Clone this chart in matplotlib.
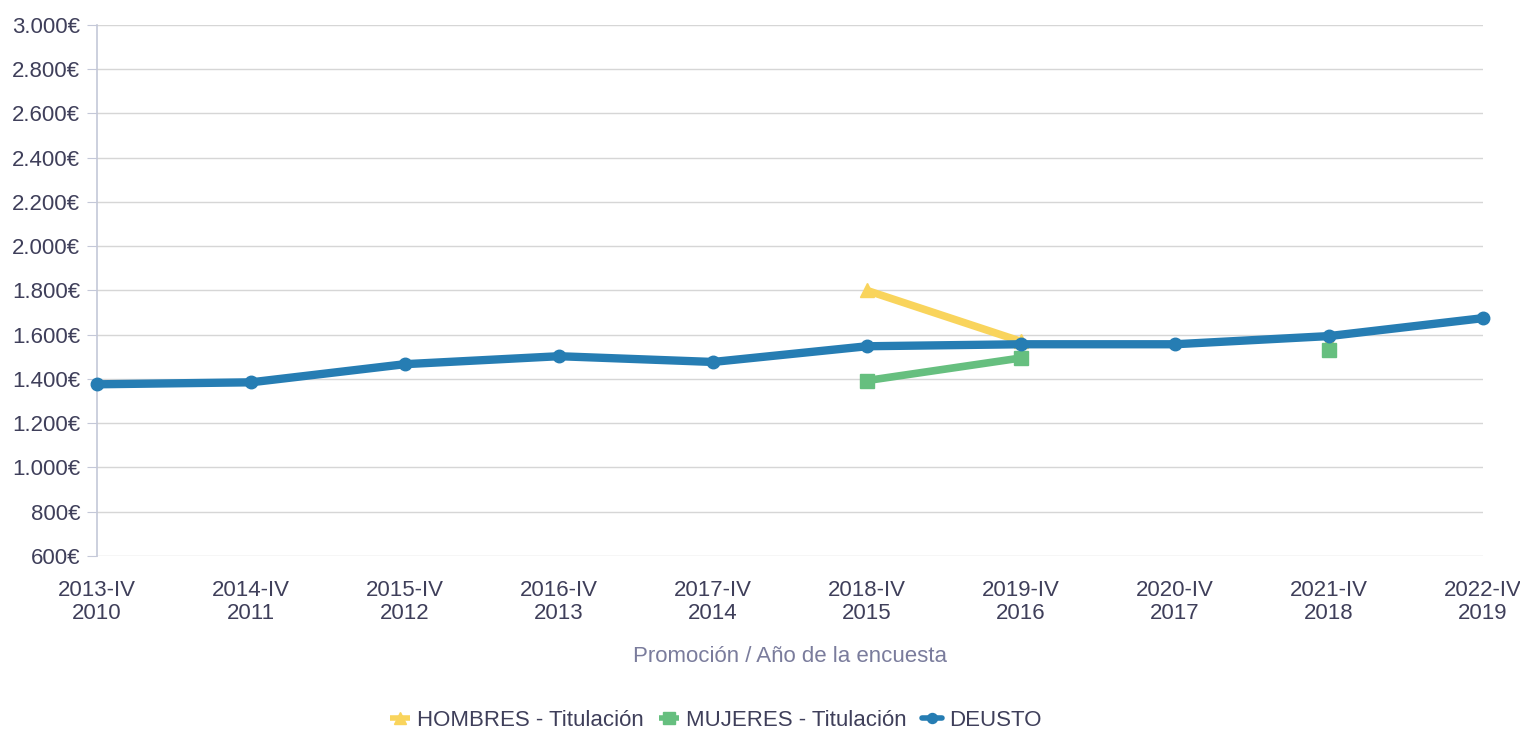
import numpy as np
import matplotlib
matplotlib.use("Agg")
import matplotlib.pyplot as plt
from matplotlib.ticker import FuncFormatter

plt.rcParams['font.family'] = ['Liberation Sans', 'DejaVu Sans']

categories = ["2013-IV\n2010", "2014-IV\n2011", "2015-IV\n2012", "2016-IV\n2013",
              "2017-IV\n2014", "2018-IV\n2015", "2019-IV\n2016", "2020-IV\n2017",
              "2021-IV\n2018", "2022-IV\n2019"]
hombres = [np.nan, np.nan, np.nan, np.nan, np.nan, 1800, 1570, np.nan, 1565, np.nan]
mujeres = [np.nan, np.nan, np.nan, np.nan, np.nan, 1393, 1495, np.nan, 1530, np.nan]
deusto = [1376, 1385, 1467, 1503, 1477, 1548, 1557, 1557, 1594, 1675]
yticks = [600, 800, 1000, 1200, 1400, 1600, 1800, 2000, 2200, 2400, 2600, 2800, 3000]

fig = plt.figure(figsize=(15.2, 7.33), dpi=100)
ax = fig.add_axes([97/1520, 1 - 556/733, (1483-97)/1520, (556-25)/733])

x = np.arange(len(categories))
c_h, c_m, c_d = "#f9d45c", "#66bf7f", "#267db3"
ax.plot(x, hombres, color=c_h, lw=5.5, marker="^", ms=10, zorder=3, label="HOMBRES - Titulación",
        solid_capstyle="butt", clip_on=False)
ax.plot(x, mujeres, color=c_m, lw=5.5, marker="s", ms=10, zorder=4, label="MUJERES - Titulación",
        solid_capstyle="butt", clip_on=False)
ax.plot(x, deusto, color=c_d, lw=6, marker="o", ms=9, zorder=5, label="DEUSTO",
        solid_capstyle="round", clip_on=False)

ax.set_xlim(0, len(categories) - 1)
ax.set_ylim(600, 3000)
ax.set_yticks(yticks)
ax.yaxis.set_major_formatter(FuncFormatter(lambda v, p: f"{int(v):,}€".replace(",", ".")))
ax.set_xticks(x)
ax.set_xticklabels(categories, linespacing=1.15)
ax.grid(axis="y", color="#d6d6d6", lw=1)
ax.set_axisbelow(True)
for s in ["top", "right", "bottom"]:
    ax.spines[s].set_visible(False)
ax.spines["left"].set_color("#c4c8d8")
ax.spines["left"].set_linewidth(1.2)
ax.tick_params(axis="y", length=7, color="#c4c8d8", labelsize=16, labelcolor="#3f3f5a", pad=5)
ax.tick_params(axis="x", length=0, labelsize=16, labelcolor="#3f3f5a", pad=17)
ax.set_xlabel("Promoción / Año de la encuesta", fontsize=16, color="#7a7c9c", labelpad=16)

leg = fig.legend(loc="center", bbox_to_anchor=(0.471, 1 - 720/733), ncol=3, frameon=False,
                 fontsize=16, handlelength=0.9, handletextpad=0.3, columnspacing=0.7,
                 markerscale=0.8)
for t in leg.get_texts():
    t.set_color("#3f3f5a")
for h in leg.legend_handles:
    h.set_linewidth(4)

fig.savefig("out.png", dpi=100)
